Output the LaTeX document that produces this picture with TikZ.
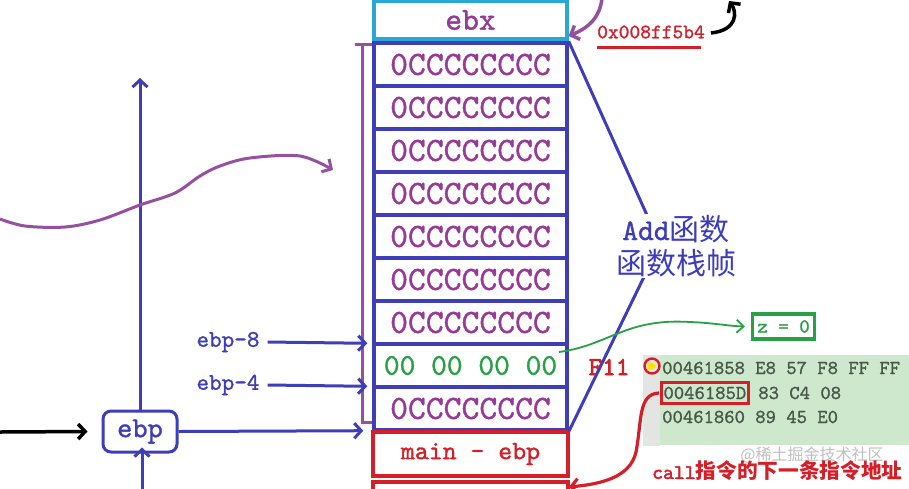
\documentclass[tikz,border=0pt]{standalone}
\usepackage{fontspec}
\newfontfamily\cjk{Noto Sans CJK SC}
\newfontfamily\mono{lmmono10-regular.otf}[FakeBold=1.2]
\newfontfamily\monob{lmmono10-regular.otf}[FakeBold=2.2]
\usetikzlibrary{arrows.meta}
\newcommand\myfs[1]{\fontsize{#1}{#1}\selectfont}
\definecolor{stk}{RGB}{62,62,184}
\definecolor{ptxt}{RGB}{150,58,150}
\definecolor{pline}{RGB}{150,80,160}
\definecolor{cyanb}{RGB}{40,168,210}
\definecolor{redc}{RGB}{212,30,40}
\definecolor{grn}{RGB}{40,160,70}
\definecolor{codetxt}{RGB}{72,88,72}
\definecolor{codebg}{RGB}{206,232,206}
\definecolor{codestrip}{RGB}{226,229,226}
\definecolor{addtxt}{RGB}{60,60,190}
\begin{document}
\begin{tikzpicture}[x=1pt,y=-1pt,
  cell/.style={draw=stk, line width=3.4pt, minimum width=193pt, minimum height=43pt, inner sep=0pt, font=\mono\myfs{34}, text=ptxt},
  redbox/.style={draw=redc, line width=3.4pt, minimum width=195pt, minimum height=44pt, inner sep=0pt},
  barb/.style={-{Straight Barb[length=7pt,width=15pt]}},
  lbl/.style={font=\mono\myfs{24}, text=stk, inner sep=0pt},
  code/.style={font=\mono\myfs{19.7}, text=codetxt, inner sep=0pt, anchor=base west}]
\useasboundingbox (0,0) rectangle (909,488);
\clip (0,0) rectangle (909,488);

% code background
\fill[codestrip] (643,355) rectangle (660,446);
\fill[codebg] (660,355) rectangle (909,445);

% ebx box
\node[draw=cyanb, line width=3.2pt, minimum width=193pt, minimum height=38pt, inner sep=0pt,
      font=\mono\myfs{32}, text=ptxt] (ebx) at (470.5,20) {ebx\hspace{18pt}};

% stack cells
\node[cell] (c1) at (470.5,64.5) {0CCCCCCCC\hspace{8pt}};
\node[cell] (c2) at (470.5,107.5) {0CCCCCCCC\hspace{8pt}};
\node[cell] (c3) at (470.5,150.5) {0CCCCCCCC\hspace{8pt}};
\node[cell] (c4) at (470.5,193.5) {0CCCCCCCC\hspace{8pt}};
\node[cell] (c5) at (470.5,236.5) {0CCCCCCCC\hspace{8pt}};
\node[cell] (c6) at (470.5,279.5) {0CCCCCCCC\hspace{8pt}};
\node[cell] (c7) at (470.5,322.5) {0CCCCCCCC\hspace{8pt}};
\node[cell, text=grn, font=\mono\myfs{30}] (c8) at (470.5,365.5) {00 00 00 00};
\node[cell] (c9) at (470.5,408.5) {0CCCCCCCC\hspace{8pt}};

% main - ebp and box below
\node[redbox, font=\mono\myfs{26.5}, text=redc] (mebp) at (470.5,454) {main - ebp};
\node[redbox] (next) at (470.5,504) {};

% purple bracket
\draw[pline, line width=3pt] (355,44) -- (372,44);
\draw[pline, line width=3pt] (362,44) -- (362,422) -- (372,422);

% Add function frame
\coordinate (apex) at (660,244);
\draw[stk, line width=3pt] (c1.north east) -- (apex) -- (c9.south east);
\node[fill=white, inner sep=1pt, align=center, text=addtxt] (addf) at (676,246)
  {{\mono\myfs{30}Add}{\cjk\myfs{30}函数}\\[6pt]{\cjk\myfs{30}函数栈帧}};

% hex address
\node[font=\mono\myfs{20.5}, text=redc, inner sep=0pt] (hex) at (651,32) {0x008ff5b4};
\draw[redc, line width=3.5pt] (hex.south west) ++(0,9) coordinate (ul1) -- ([shift={(-4,9)}]hex.south east);
\coordinate (pstart) at (602,-2);
\draw[pline, line width=3.5pt, barb] (pstart) .. controls (600,18) and (588,28) .. (ebx.north east |- 0,36);
\coordinate (bk1) at (711,33);
\coordinate (bk2) at (729,1);
\draw[black, line width=3.5pt, barb] (bk1) .. controls (738,30) and (737,12) .. (bk2);

% left side
\node[draw=stk, line width=3pt, rounded corners=8pt, minimum width=74pt, minimum height=41pt,
      inner sep=0pt, font=\mono\myfs{29}, text=stk] (ebp) at (140,431.5) {ebp};
\coordinate (vtop) at (140,78);
\draw[stk, line width=3pt, barb] (ebp.north) -- (vtop);
\coordinate (vbot) at (142,492);
\draw[stk, line width=3pt, barb] (vbot) -- ([yshift=6]ebp.south -| vbot);
\coordinate (lin) at (0,432);
\draw[black, line width=3.5pt, barb] (lin) -- ([xshift=-14]ebp.west);
\draw[stk, line width=3pt, barb] (ebp.east) -- ([xshift=-9,yshift=1]c9.south west);

\node[lbl] (e8) at (228,342) {ebp-8};
\node[lbl] (e4) at (228,385) {ebp-4};
\draw[stk, line width=3pt, barb] ([xshift=8]e8.east) -- ([xshift=-5,yshift=-1]c8.north west);
\draw[stk, line width=3pt, barb] ([xshift=8]e4.east) -- ([xshift=-5,yshift=-1]c9.north west);

% purple wavy curve
\coordinate (wv0) at (0,219);
\coordinate (wv1) at (333,170);
\draw[pline, line width=3pt, barb] plot[smooth, tension=0.55] coordinates
  {(wv0) (25,226) (65,227) (100,220) (140,205) (175,193) (200,176) (220,166) (250,158) (300,156) (wv1)};

% green z = 0
\node[draw=grn, line width=3.2pt, minimum width=62pt, minimum height=25pt, inner sep=0pt,
      font=\mono\myfs{20}, text=grn] (z0) at (783.5,326.5) {z = 0};
\coordinate (gs) at (559,352);
\draw[grn, line width=1.8pt, -{Straight Barb[length=7pt,width=13pt]}] (gs) .. controls (610,345) and (625,318) .. (690,322)
  .. controls (715,323) and (728,326) .. ([xshift=-6]z0.west);

% F11 and marker
\node[font=\monob\myfs{26}, text=redc, inner sep=0pt] (f11) at (609,367) {F11};
\node[draw=redc, line width=2.4pt, circle, minimum size=15pt, inner sep=0pt] (mark) at (652,366) {};
\fill[yellow!85!orange] (647.5,362.5) -- (652.5,362.5) -- (656.5,366) -- (652.5,369.5) -- (647.5,369.5) -- cycle;

% code lines
\node[code] (l1) at (662,374) {00461858 E8 57 F8 FF FF};
\node[code, draw=redc, line width=3pt, inner sep=2pt, inner ysep=4pt] (l2a) at (660,399) {0046185D};
\node[code] (l2b) at ([xshift=8.4]l2a.base east) {83 C4 08};
\node[code] (l3) at (662,423) {00461860 89 45 E0};

% red curve to return address
\coordinate (rc) at (569,487);
\draw[redc, line width=3.2pt, barb] ([xshift=-1]l2a.west) .. controls (638,394) and (642,420) .. (636,452)
  .. controls (630,478) and (600,484) .. (rc);

% watermark
\node[font=\cjk\myfs{16}, text=gray!50, inner sep=0pt] (wm) at (812,455) {@稀土掘金技术社区};

% bottom caption
\node[font=\myfs{20.7}, text=redc, inner sep=0pt, anchor=west] (cap) at (652,471)
  {{\monob call}{\cjk\bfseries 指令的下一条指令地址}};
\end{tikzpicture}
\end{document}
